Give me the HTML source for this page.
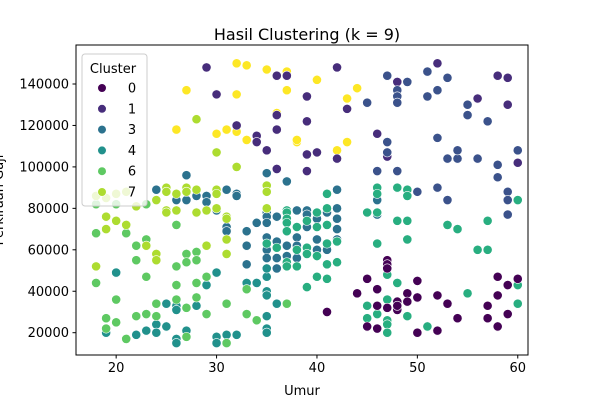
<!DOCTYPE html>
<html><head><meta charset="utf-8"><style>
html,body{margin:0;padding:0;background:#fff;}
svg{display:block;font-family:"DejaVu Sans","Liberation Sans",sans-serif;}
</style></head><body>
<svg id="chart" width="600" height="400" viewBox="0 0 600 400" xmlns="http://www.w3.org/2000/svg">
<rect width="600" height="400" fill="#fff"/>
<text x="307" y="40" text-anchor="middle" font-size="16" fill="#000">Hasil Clustering (k = 9)</text>
<g id="xticks"></g>
<g id="yticks"></g>
<g id="points"></g>
<rect x="76" y="45" width="452" height="310" fill="none" stroke="#000" stroke-width="1"/>
<text x="302" y="395" text-anchor="middle" font-size="13">Umur</text>
<text transform="translate(3,200) rotate(-90)" text-anchor="middle" font-size="13">Perkiraan Gaji</text>
<g id="legend">
<rect x="82" y="54" width="65" height="152" rx="3" fill="rgba(255,255,255,0.8)" stroke="#ccc"/>
<text x="113" y="73" text-anchor="middle" font-size="13">Cluster</text>
</g>
</svg>
<script>
const ages = [32,33,35,37,27,32,37,26,30,31,32,33,36,38,38,40,44,43,42,43,
29,36,37,30,32,34,34,35,36,36,36,39,42,39,43,48,52,56,58,59,59,46,47,39,40,42,39,60,
45,47,48,48,48,49,51,51,52,53,55,55,57,47,47,46,48,52,53,54,54,56,58,58,60,59,52,50,53,59,59,
27,35,37,24,31,32,29,32,26,27,28,29,30,31,31,33,34,33,33,35,35,35,35,36,36,36,36,37,37,38,38,38,38,39,39,39,40,40,40,41,41,42,42,42,42,42,46,46,35,35,
20,30,29,33,34,35,35,35,25,26,26,28,19,24,24,25,23,22,27,26,26,30,30,31,32,35,35,35,36,35,
37,37,37,37,37,37,37,38,38,38,39,39,39,39,40,40,40,40,41,41,41,41,41,41,42,42,45,45,45,46,46,46,46,47,47,47,47,47,48,48,49,48,48,49,49,49,49,51,53,54,55,56,57,57,60,60,60,46,48,35,36,
41,44,45,45,46,46,46,47,47,47,47,48,48,49,49,50,50,50,52,52,53,54,57,57,58,58,58,59,59,60,48,
23,18,21,22,23,26,22,27,27,28,28,23,26,18,26,28,29,20,28,31,24,26,27,22,23,24,29,19,19,20,21,27,31,33,33,34,37,18,20,
28,30,32,35,35,25,25,27,27,28,30,30,26,24,30,25,25,26,28,29,31,31,31,19,19,20,21,23,24,24,29,31,18,35,18,19,20,21,22];
const salaries = [150,149,147,146,137,135,137,118,116,118,117,113,126,112,113,142,138,133,108,112,
148,144,144,135,120,115,112,108,125,118,99,122,148,134,128,141,150,133,144,143,130,116,105,106,107,104,98,102,
131,144,137,134,131,141,146,134,137,143,130,125,122,112,107,98,98,114,104,104,108,104,101,95,108,88,90,88,84,84,77,
96,97,93,89,89,87,86,86,84,84,86,83,79,71,69,69,73,62,53,78,76,73,66,76,64,56,51,62,57,79,66,62,56,79,77,71,75,65,60,78,60,89,80,75,70,65,84,77,60,56,
49,49,43,44,44,47,40,38,34,33,31,33,20,24,20,23,21,19,21,17,15,18,15,19,19,28,22,20,34,51,
79,78,75,73,69,54,52,71,60,52,74,61,58,42,78,71,57,47,87,80,72,63,53,46,64,54,78,33,27,90,78,63,29,48,36,26,24,20,90,74,74,44,34,89,86,65,28,23,72,70,39,60,60,74,84,43,34,87,90,63,61,
30,39,46,23,41,33,22,55,53,51,32,35,31,39,35,45,37,20,38,21,34,27,33,27,47,38,23,43,29,46,33,
82,68,68,62,65,72,55,58,54,59,55,47,52,44,43,44,47,36,37,34,34,36,32,28,29,28,29,27,22,25,17,18,15,41,29,26,34,82,82,
123,107,100,91,88,90,88,90,88,89,89,87,87,84,80,79,78,79,78,79,76,75,65,76,70,74,72,62,58,55,62,58,52,80,86,85,87,88,81];
const clusterCounts = [20,28,31,50,30,61,31,39,39];
const clusterOrder = [8,1,2,3,4,5,0,6,7];
const legendLabels = ["0","1","3","4","6","7"];
const xTicks = [20,30,40,50,60];
const yTicks = [20000,40000,60000,80000,100000,120000,140000];

const palette = ["#440154","#472d7b","#3b528b","#2c728e","#21918c","#28ae80","#5ec962","#addc30","#fde725"];
const NS = "http://www.w3.org/2000/svg";
function xs(a){ return 76 + (a - 16) * 10.04; }
function ys(v){ return 332.7 - (v - 20000) * 0.0020725; }
function mk(tag, attrs, parent){ const e=document.createElementNS(NS,tag); for(const k in attrs) e.setAttribute(k,attrs[k]); parent.appendChild(e); return e; }

const clusters = [];
clusterOrder.forEach((c,i)=>{ for(let j=0;j<clusterCounts[i];j++) clusters.push(c); });

const gx = document.getElementById('xticks');
xTicks.forEach(t=>{
  const x = xs(t);
  const l = mk('line',{x1:x,x2:x,y1:355,y2:358.5,stroke:'#000'},gx);
  
  
  const tx = mk('text',{x:x,y:372,'text-anchor':'middle','font-size':'13'},gx);
  tx.textContent = t;
  
  
});
const gy = document.getElementById('yticks');
yTicks.forEach(t=>{
  const y = ys(t);
  const l = mk('line',{x1:72.5,x2:76,y1:y,y2:y,stroke:'#000'},gy);
  
  
  const tx = mk('text',{x:69,y:y+4.5,'text-anchor':'end','font-size':'13'},gy);
  tx.textContent = t;
  
  
});
const gp = document.getElementById('points');
for(let i=0;i<ages.length;i++){
  const c = mk('circle',{cx:xs(ages[i]),cy:ys(salaries[i]*1000),r:4.6,fill:palette[clusters[i]],stroke:'#fff','stroke-width':0.6},gp);
  
  
}
const gl = document.getElementById('legend');
legendLabels.forEach((lab,i)=>{
  const y = 88 + i*20.8;
  const c = mk('circle',{cx:102,cy:y,r:4.3,fill:palette[+lab],stroke:'#fff','stroke-width':0.6},gl);
  
  
  const t = mk('text',{x:132,y:y+4.5,'text-anchor':'middle','font-size':'13'},gl);
  t.textContent = lab;
  
  
});
</script>
</body></html>
